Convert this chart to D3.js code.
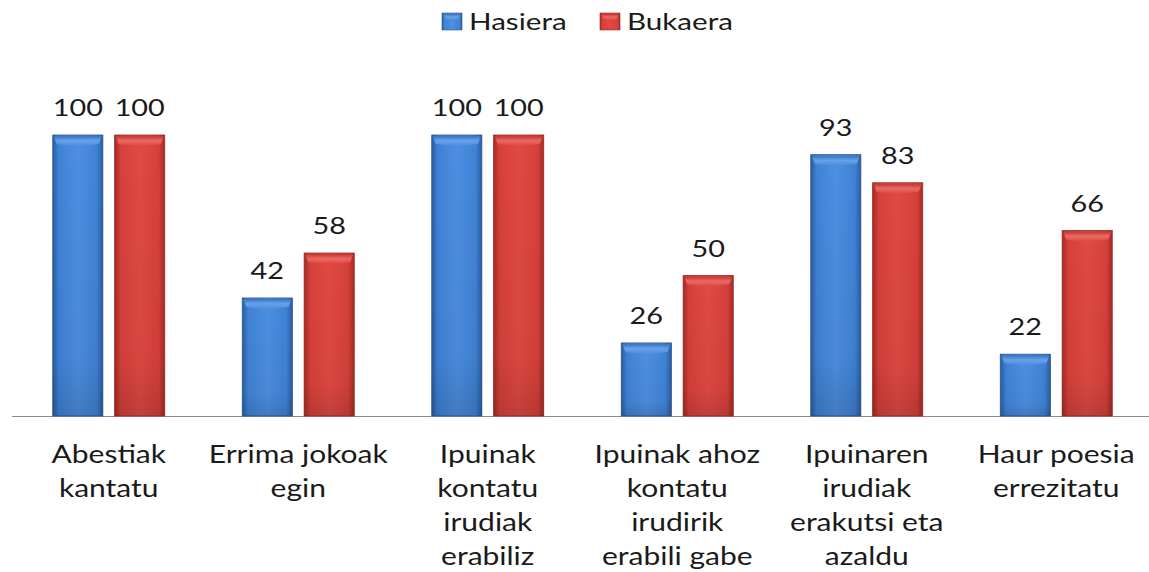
<!DOCTYPE html>
<html><head><meta charset="utf-8">
<script src="https://cdn.jsdelivr.net/npm/d3@7"></script>
<style>
html,body{margin:0;padding:0;background:#fff;}
svg{display:block;}
text{font-family:Lato,"Open Sans",sans-serif;fill:#1a1a1a;}
</style></head>
<body>
<svg id="chart" width="1149" height="572"></svg>
<script>
const categories = [
  "Abestiak\nkantatu",
  "Errima jokoak\negin",
  "Ipuinak\nkontatu\nirudiak\nerabiliz",
  "Ipuinak ahoz\nkontatu\nirudirik\nerabili gabe",
  "Ipuinaren\nirudiak\nerakutsi eta\nazaldu",
  "Haur poesia\nerrezitatu"
];
const seriesNames = ["Hasiera", "Bukaera"];
const hasiera = [100, 42, 100, 26, 93, 22];
const bukaera = [100, 58, 100, 50, 83, 66];

const W = 1149, H = 572;
const SX = 1.2; // horizontal stretch of the text
const svg = d3.select("#chart");
const defs = svg.append("defs");

const palettes = {
  Hasiera: {edge:"#2a5d9f", mid:"#3f82d6", light:"#4d8fe0", cap:"#6aa3ea", capDark:"#3572c2", stroke:"#2a5590"},
  Bukaera: {edge:"#a52a26", mid:"#d7403a", light:"#e04a43", cap:"#ec6c66", capDark:"#c33530", stroke:"#9a2824"}
};
seriesNames.forEach(s => {
  const p = palettes[s];
  const g = defs.append("linearGradient").attr("id","body-"+s).attr("x1","0").attr("x2","1").attr("y1","0").attr("y2","0");
  g.append("stop").attr("offset","0").attr("stop-color",p.edge);
  g.append("stop").attr("offset","0.12").attr("stop-color",p.mid);
  g.append("stop").attr("offset","0.5").attr("stop-color",p.light);
  g.append("stop").attr("offset","0.88").attr("stop-color",p.mid);
  g.append("stop").attr("offset","1").attr("stop-color",p.edge);
  const c = defs.append("linearGradient").attr("id","cap-"+s).attr("x1","0").attr("x2","0").attr("y1","0").attr("y2","1");
  c.append("stop").attr("offset","0").attr("stop-color",p.capDark);
  c.append("stop").attr("offset","0.5").attr("stop-color",p.cap);
  c.append("stop").attr("offset","1").attr("stop-color",p.light);
  const v = defs.append("linearGradient").attr("id","shade-"+s).attr("x1","0").attr("x2","0").attr("y1","0").attr("y2","1");
  v.append("stop").attr("offset","0").attr("stop-color","#000").attr("stop-opacity",0);
  v.append("stop").attr("offset","0.8").attr("stop-color","#000").attr("stop-opacity",0.04);
  v.append("stop").attr("offset","1").attr("stop-color","#000").attr("stop-opacity",0.14);
});

const baseY = 416;
const x0 = d3.scaleBand().domain(categories).range([14, 1151]).paddingInner(0).paddingOuter(0);
const x1 = d3.scaleBand().domain(seriesNames)
  .range([x0.bandwidth()/2 - 56, x0.bandwidth()/2 + 56]).paddingInner(0.19).paddingOuter(0);
const y = d3.scaleLinear().domain([0, 100]).range([baseY, 135]);

const data = categories.map((c, i) => ({cat: c, values: [
  {key: "Hasiera", value: hasiera[i]},
  {key: "Bukaera", value: bukaera[i]}
]}));

// axis line
svg.append("line").attr("x1", 12).attr("x2", W).attr("y1", baseY + 0.5).attr("y2", baseY + 0.5)
  .attr("stroke", "#8c8c8c").attr("stroke-width", 1.2);

const groups = svg.selectAll("g.grp").data(data).join("g").attr("class","grp")
  .attr("transform", d => `translate(${x0(d.cat)},0)`);

const bars = groups.selectAll("g.bar").data(d => d.values).join("g").attr("class","bar");
bars.each(function(d){
  const g = d3.select(this);
  const bx = x1(d.key), bw = x1.bandwidth(), by = y(d.value), bh = baseY - by;
  const p = palettes[d.key];
  g.append("rect").attr("x", bx).attr("y", by).attr("width", bw).attr("height", bh)
    .attr("fill", `url(#body-${d.key})`).attr("stroke", p.stroke).attr("stroke-width", 0.8);
  g.append("rect").attr("x", bx).attr("y", by).attr("width", bw).attr("height", bh)
    .attr("fill", `url(#shade-${d.key})`);
  const ch = 9;
  g.append("path")
    .attr("d", `M${bx+1},${by+1} L${bx+bw-1},${by+1} L${bx+bw-4},${by+ch} Q${bx+bw/2},${by+ch+3} ${bx+4},${by+ch} Z`)
    .attr("fill", `url(#cap-${d.key})`).attr("opacity", 0.95);
  g.append("text").attr("transform", `translate(${bx + bw/2},${by - 19}) scale(${SX},1)`)
    .attr("text-anchor","middle").attr("font-size", 24).text(d.value);
});

// category labels
groups.each(function(d){
  const lines = d.cat.split("\n");
  const t = d3.select(this).append("text")
    .attr("transform", `translate(${x0.bandwidth()/2},463) scale(${SX},1)`)
    .attr("text-anchor","middle").attr("font-size", 25);
  lines.forEach((ln, i) => {
    t.append("tspan").attr("x", 0).attr("y", i*34).text(ln);
  });
});

// legend
const legend = svg.append("g").attr("class","legend");
const legendItems = [{key:"Hasiera", x:442}, {key:"Bukaera", x:600}];
legendItems.forEach(it => {
  const g = legend.append("g").attr("transform", `translate(${it.x},13)`);
  g.append("rect").attr("width", 20).attr("height", 17).attr("fill", `url(#body-${it.key})`)
    .attr("stroke", palettes[it.key].stroke).attr("stroke-width", 0.6);
  g.append("path").attr("d","M1,1 L19,1 L16,6 Q10,8 4,6 Z").attr("fill", `url(#cap-${it.key})`);
  g.append("text").attr("transform", `translate(27,17) scale(1.26,1)`).attr("font-size", 23.5).text(it.key);
});
</script>
</body></html>
